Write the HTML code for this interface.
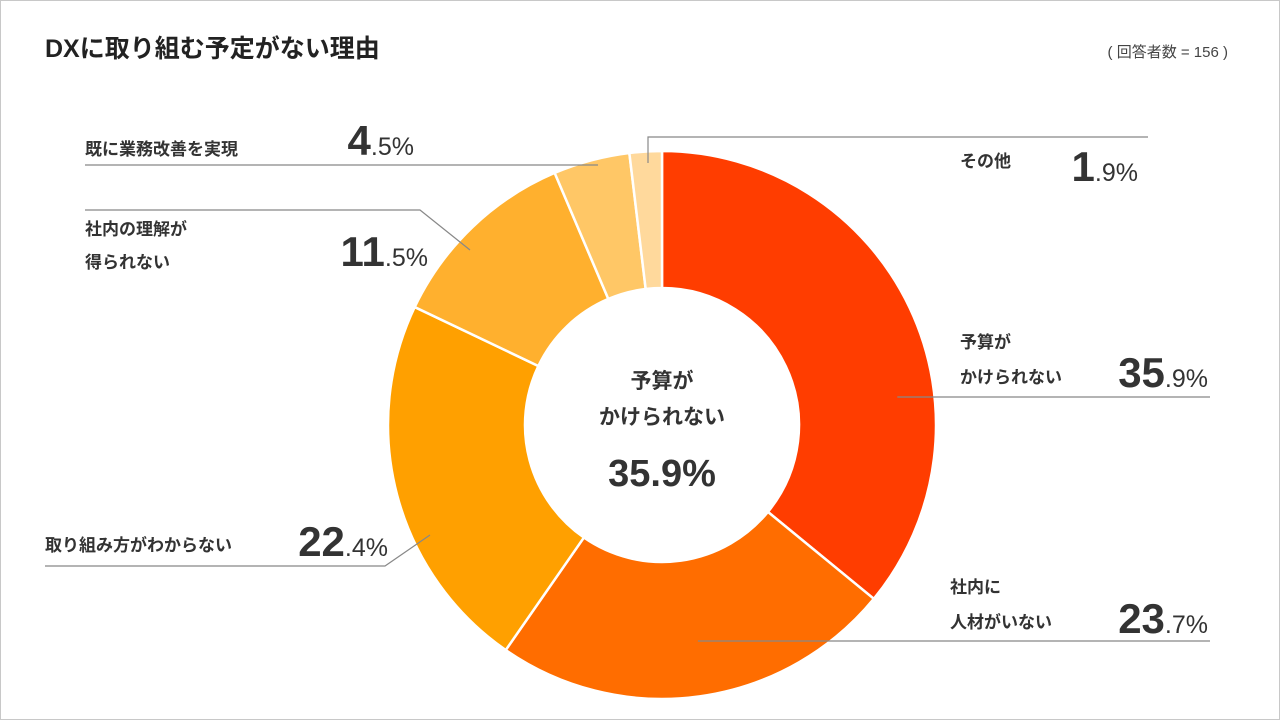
<!DOCTYPE html>
<html><head><meta charset="utf-8"><style>
body{margin:0;width:1280px;height:720px;overflow:hidden;background:#fff;font-family:"Liberation Sans","Noto Sans CJK JP",sans-serif;color:#333}
#frame{position:absolute;left:0;top:0;width:1278px;height:718px;border:1px solid #c8c8c8}
</style></head><body>
<div id="frame"></div>
<svg id="chart" width="1280" height="720" style="position:absolute;left:0;top:0" font-family="Liberation Sans, Noto Sans CJK JP, sans-serif">
<text x="45" y="57" font-size="25" font-weight="bold" fill="#222">DXに取り組む予定がない理由</text>
<text x="1228" y="57" font-size="15" text-anchor="end" fill="#444">( 回答者数 = 156 )</text>
<g id="slices"></g>
<g id="leaders" stroke="#888" stroke-width="1.2" fill="none"></g>
<g id="labels"></g>
<text x="662" y="388" font-size="21" text-anchor="middle" font-weight="bold" fill="#333">予算が</text>
<text x="662" y="424" font-size="21" text-anchor="middle" font-weight="bold" fill="#333">かけられない</text>
<text id="centerVal" x="662" y="486" font-size="38" text-anchor="middle" font-weight="bold" fill="#333"></text>
</svg>
<script>
const categories=["予算が|かけられない","社内に|人材がいない","取り組み方がわからない","社内の理解が|得られない","既に業務改善を実現","その他"];
const values=[35.9,23.7,22.4,11.5,4.5,1.9];
const colors=["#FF3D00","#FF6D00","#FFA000","#FFB02E","#FFC766","#FFD99C"];
const cx=662,cy=425,R=274,r=137;
const NS="http://www.w3.org/2000/svg";
const total=values.reduce((a,b)=>a+b,0);
function pt(a,rad){return [cx+rad*Math.sin(a),cy-rad*Math.cos(a)];}
const g=document.getElementById('slices');
let acc=0;const mids=[];
values.forEach((v,i)=>{
 const a0=acc/total*2*Math.PI;acc+=v;const a1=acc/total*2*Math.PI;mids.push((a0+a1)/2);
 const large=a1-a0>Math.PI?1:0;
 const [x0,y0]=pt(a0,R),[x1,y1]=pt(a1,R),[x2,y2]=pt(a1,r),[x3,y3]=pt(a0,r);
 const p=document.createElementNS(NS,'path');
 p.setAttribute('d',`M${x0},${y0}A${R},${R} 0 ${large} 1 ${x1},${y1}L${x2},${y2}A${r},${r} 0 ${large} 0 ${x3},${y3}Z`);
 p.setAttribute('fill',colors[i]);p.setAttribute('stroke','#fff');p.setAttribute('stroke-width','2.5');
 
 
 g.appendChild(p);
});
document.getElementById('centerVal').textContent=values[0].toFixed(1)+'%';
// label layout: [anchor radius, elbow points..., text x, text y (value baseline), value anchor x, side]
const layout=[
 {pts:[[pt(mids[0],R*0.95)[0],397],[1210,397]],tx:960,ty:[348,383],vx:1208,vy:387},
 {pts:[[pt(mids[1],R*0.95)[0],641],[1210,641]],tx:950,ty:[593,628],vx:1208,vy:633},
 {pts:[[430,535],[385,566],[45,566]],tx:45,ty:[551],vx:388,vy:556,one:true},
 {pts:[[470,250],[420,210],[85,210]],tx:85,ty:[235,268],vx:428,vy:266},
 {pts:[[598,165],[85,165]],tx:85,ty:[155],vx:414,vy:155,one:true},
 {pts:[[648,163],[648,137],[1148,137]],tx:960,ty:[167],vx:1138,vy:181,one:true}
];
const L=document.getElementById('leaders'),T=document.getElementById('labels');
layout.forEach((o,i)=>{
 const pl=document.createElementNS(NS,'polyline');
 pl.setAttribute('points',o.pts.map(p=>p.join(',')).join(' '));
 
 
 L.appendChild(pl);
 categories[i].split('|').forEach((s,k)=>{
  const t=document.createElementNS(NS,'text');
  t.setAttribute('x',o.tx);t.setAttribute('y',o.ty[k]);t.setAttribute('font-size','17');t.setAttribute('font-weight','bold');t.setAttribute('fill','#333');
  t.textContent=s;
  
  
  T.appendChild(t);
 });
 const parts=values[i].toFixed(1).split('.');
 const t=document.createElementNS(NS,'text');
 t.setAttribute('x',o.vx);t.setAttribute('y',o.vy);t.setAttribute('text-anchor','end');t.setAttribute('fill','#333');
 t.innerHTML=`<tspan font-size="42" font-weight="bold">${parts[0]}</tspan><tspan font-size="25">.${parts[1]}%</tspan>`;
 
 
 T.appendChild(t);
});
</script>
</body></html>
